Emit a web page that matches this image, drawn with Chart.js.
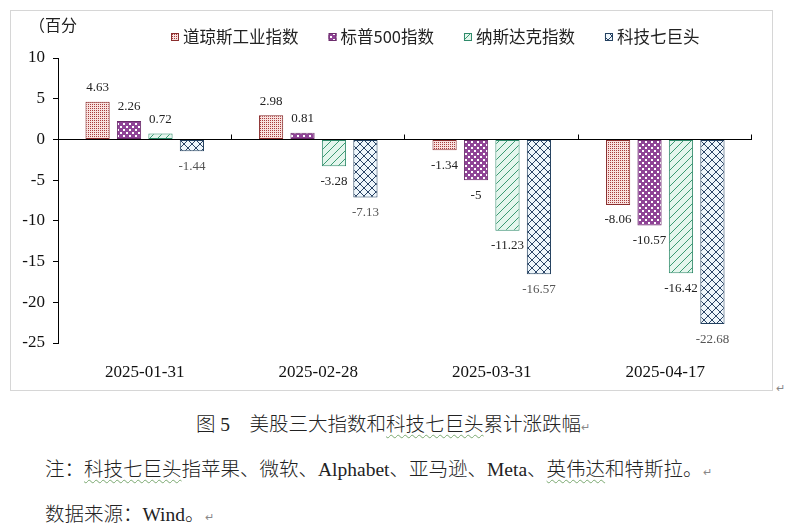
<!DOCTYPE html>
<html>
<head>
<meta charset="utf-8">
<script src="https://cdn.jsdelivr.net/npm/chart.js@4.4.1/dist/chart.umd.min.js"></script>
<style>
  body { margin: 0; background: #fff; width: 786px; height: 527px; position: relative; overflow: hidden; }
  #frame { position: absolute; left: 10px; top: 10px; width: 763px; height: 381px; border: 1px solid #d6d6d6; box-sizing: border-box; }
  #chart { position: absolute; left: 12px; top: 12px; }
  .txt { position: absolute; font-family: "Liberation Serif", "Noto Sans CJK SC"; font-size: 19.5px; color: #222; line-height: 1; white-space: nowrap; font-weight: 300; }
  .wavy { text-decoration: underline wavy #7aa870; text-decoration-thickness: 1px; text-underline-offset: 3px; }
  .mk { font-size: 11px; color: #888; }
</style>
</head>
<body>
<div id="frame"></div>
<canvas id="chart" width="761" height="379"></canvas>
<div class="mk" style="position:absolute; left:776px; top:382px;">↵</div>
<div class="txt" style="left:0; top:415px; width:786px; text-align:center;">图 <b>5</b>　美股三大指数和<span class="wavy">科技七巨头</span>累计涨跌幅<span class="mk">↵</span></div>
<div class="txt" style="left:45px; top:460px;">注：<span class="wavy">科技七巨头</span>指苹果、微软、Alphabet、亚马逊、Meta、<span class="wavy">英伟达</span>和特斯拉。<span class="mk">↵</span></div>
<div class="txt" style="left:45px; top:505px;">数据来源：Wind。<span class="mk">↵</span></div>
<script>
// values (cumulative change, %)
var categories = ['2025-01-31', '2025-02-28', '2025-03-31', '2025-04-17'];
var seriesNames = ['道琼斯工业指数', '标普500指数', '纳斯达克指数', '科技七巨头'];
var dowJones = [4.63, 2.98, -1.34, -8.06];
var sp500 = [2.26, 0.81, -5, -10.57];
var nasdaq = [0.72, -3.28, -11.23, -16.42];
var magnificent7 = [-1.44, -7.13, -16.57, -22.68];
var yMin = -25, yMax = 10, yStep = 5;

function makePattern(size, bg, draw) {
    var c = document.createElement('canvas');
    c.width = c.height = size;
    var g = c.getContext('2d');
    g.fillStyle = bg;
    g.fillRect(0, 0, size, size);
    draw(g);
    return g.createPattern(c, 'repeat');
}

var dotFill = makePattern(2, '#f8e2df', function(g) {
    g.fillStyle = '#a83c3c';
    g.fillRect(0, 0, 1, 1);
});
var purpleFill = makePattern(6, '#8f4496', function(g) {
    g.fillStyle = '#fff'; g.fillRect(0, 0, 2, 2); g.fillRect(3, 3, 2, 2);
});
var slashFill = makePattern(8, '#e4f6ed', function(g) {
    g.strokeStyle = '#3a9a72'; g.lineWidth = 1;
    g.beginPath(); g.moveTo(0, 8); g.lineTo(8, 0); g.stroke();
});
var crossFill = makePattern(8, '#eef6fb', function(g) {
    g.strokeStyle = '#2a4466'; g.lineWidth = 1;
    g.beginPath(); g.moveTo(0, 8); g.lineTo(8, 0); g.moveTo(0, 0); g.lineTo(8, 8); g.stroke();
});

var fills = [dotFill, purpleFill, slashFill, crossFill];
var borders = ['#8a2e2e', '#6b2d6b', '#2f8a6a', '#23405f'];
var labelColors = ['#222', '#222', '#222', '#555'];

var annotate = {
    id: 'annotate',
    afterDatasetsDraw: function(chart) {
        var ctx = chart.ctx, area = chart.chartArea, x = chart.scales.x, y = chart.scales.y;
        var y0 = Math.round(y.getPixelForValue(0)) + 0.5;
        ctx.save();
        // zero line with small upward ticks between categories
        ctx.strokeStyle = '#000';
        ctx.lineWidth = 1;
        ctx.beginPath();
        ctx.moveTo(area.left, y0);
        ctx.lineTo(area.right, y0);
        for (var i = 1; i <= categories.length; i++) {
            var bx = i < categories.length ? (x.getPixelForValue(i - 1) + x.getPixelForValue(i)) / 2 : area.right;
            bx = Math.round(bx) - 0.5;
            ctx.moveTo(bx, y0);
            ctx.lineTo(bx, y0 - 5);
        }
        ctx.stroke();

        // value labels
        ctx.font = '13px "Liberation Serif"';
        ctx.textAlign = 'center';
        ctx.textBaseline = 'middle';
        chart.data.datasets.forEach(function(ds, di) {
            chart.getDatasetMeta(di).data.forEach(function(bar, j) {
                var v = ds.data[j];
                ctx.fillStyle = labelColors[di];
                ctx.fillText(String(v), bar.x, v >= 0 ? bar.y - 14 : bar.y + 15);
            });
        });
        ctx.restore();
    },
    afterDraw: function(chart) {
        var ctx = chart.ctx, area = chart.chartArea;
        ctx.save();
        // unit label
        ctx.font = '16px "Noto Sans CJK SC"';
        ctx.fillStyle = '#222';
        ctx.textAlign = 'left';
        ctx.textBaseline = 'middle';
        ctx.fillText('（百分', area.left - 29, 13);

        // legend
        ctx.font = '16.5px "Noto Sans CJK SC"';
        var lx = area.left + 113, ly = 25;
        chart.data.datasets.forEach(function(ds) {
            ctx.fillStyle = ds.backgroundColor;
            ctx.fillRect(lx, ly - 4, 8, 8);
            ctx.strokeStyle = ds.borderColor;
            ctx.strokeRect(lx + 0.5, ly - 3.5, 7, 7);
            ctx.fillStyle = '#222';
            ctx.fillText(ds.label, lx + 12, ly);
            lx += 12 + ctx.measureText(ds.label).width + 30;
        });
        ctx.restore();
    }
};

var ctx = document.getElementById('chart').getContext('2d');
var chart = new Chart(ctx, {
    type: 'bar',
    data: {
        labels: categories,
        datasets: [dowJones, sp500, nasdaq, magnificent7].map(function(values, i) {
            return {
                label: seriesNames[i],
                data: values,
                backgroundColor: fills[i],
                borderColor: borders[i],
                borderWidth: 1,
                borderSkipped: false,
                barPercentage: 0.77,
                categoryPercentage: 0.725
            };
        })
    },
    options: {
        responsive: false,
        animation: false,
        layout: { padding: { top: 46, right: 21, bottom: 0, left: 0 } },
        plugins: {
            legend: { display: false },
            tooltip: { enabled: false }
        },
        scales: {
            x: {
                grid: { display: false },
                border: { display: false },
                ticks: {
                    padding: 11,
                    maxRotation: 0,
                    color: '#111',
                    font: { family: 'Liberation Serif', size: 17 }
                },
                afterFit: function(s) { s.height = 48; }
            },
            y: {
                min: yMin,
                max: yMax,
                grid: { drawOnChartArea: false, drawTicks: true, tickLength: 5, color: '#000' },
                border: { display: true, color: '#000', width: 1 },
                ticks: {
                    stepSize: yStep,
                    padding: 8,
                    color: '#111',
                    font: { family: 'Liberation Serif', size: 17 }
                },
                afterFit: function(s) { s.width = 46; }
            }
        }
    },
    plugins: [annotate]
});
</script>
</body>
</html>
